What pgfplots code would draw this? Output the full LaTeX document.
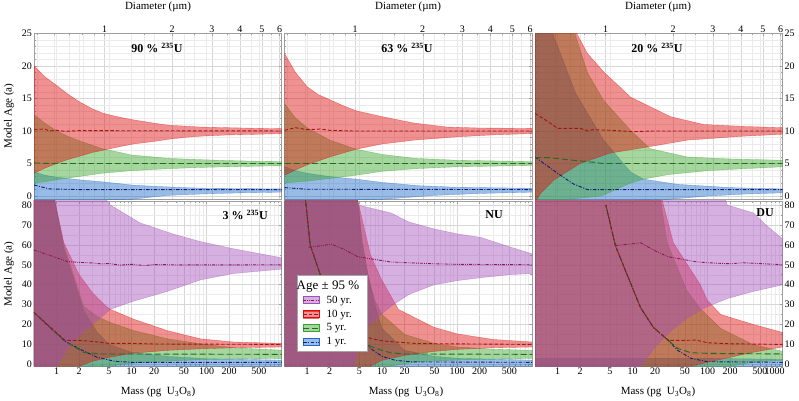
\documentclass[border=0pt]{standalone}
\usepackage{pgfplots}
\pgfplotsset{compat=1.18}
\usepackage{fontspec}
\setmainfont{Liberation Serif}
\definecolor{cP}{RGB}{163,79,186}
\definecolor{cR}{RGB}{222,10,10}
\definecolor{cG}{RGB}{56,163,41}
\definecolor{cB}{RGB}{28,107,199}
\definecolor{lP}{RGB}{140,20,95}
\definecolor{lR}{RGB}{165,20,20}
\definecolor{lG}{RGB}{30,110,30}
\definecolor{lB}{RGB}{20,30,120}
\tikzset{
 bandP/.style={fill=cP, fill opacity=0.45, draw=cP, draw opacity=0.55, line width=0.35pt},
 bandR/.style={fill=cR, fill opacity=0.45, draw=cR, draw opacity=0.55, line width=0.35pt},
 bandG/.style={fill=cG, fill opacity=0.45, draw=cG, draw opacity=0.55, line width=0.35pt},
 bandB/.style={fill=cB, fill opacity=0.45, draw=cB, draw opacity=0.55, line width=0.35pt},
 meanP/.style={draw=lP, line width=0.9pt, dash pattern=on 3pt off 1.2pt on 0.8pt off 1.2pt on 0.8pt off 1.2pt},
 meanR/.style={draw=lR, line width=0.9pt, dash pattern=on 3.5pt off 2pt},
 meanG/.style={draw=lG, line width=0.9pt, dash pattern=on 6pt off 3pt},
 meanB/.style={draw=lB, line width=0.9pt, dash pattern=on 3.5pt off 1.5pt on 1pt off 1.5pt},
}
\newcommand\TOPFRAME{scale only axis, width=247.5pt, height=165.7pt, anchor=south west,
   axis line style={gray!75}, tick style={gray!75, line width=0.4pt},
   tick align=inside, major tick length=3pt, minor tick length=1.7pt,
   tick label style={font=\fontsize{10}{12}\selectfont, inner ysep=0.5pt, inner xsep=2pt},
   /pgf/number format/assume math mode=true,
   xmode=log, xmin=0.486, xmax=6.12, ymin=-0.45, ymax=25,
   xtick={1,2,3,4,5,6}, xticklabels={1,2,3,4,5,6},
   minor xtick={0.5,0.6,0.7,0.8,0.9,1.5,2.5,3.5,4.5,5.5},
   axis x line*=top,
   ytick={0,5,10,15,20,25}, minor ytick={1,2,3,4,6,7,8,9,11,12,13,14,16,17,18,19,21,22,23,24},
   ytick pos=both, grid=both,
   major grid style={gray!32, line width=0.4pt}, minor grid style={gray!16, line width=0.35pt}}
\newcommand\TOPDATA{scale only axis, width=247.5pt, height=165.7pt, anchor=south west,
   axis line style={gray!75},
   xmode=log, xmin=0.5, xmax=1000, ymin=-0.45, ymax=25,
   xtick={1,2,5,10,20,50,100,200,500}, xticklabels={}, ytick=\empty,
   major tick length=0pt, xmajorgrids, major grid style={gray!16, line width=0.35pt}}
\newcommand\BOTDATA{scale only axis, width=247.5pt, height=165pt, anchor=south west,
   axis line style={gray!75}, tick style={gray!75, line width=0.4pt},
   tick align=inside, major tick length=3pt, minor tick length=1.7pt,
   tick label style={font=\fontsize{10}{12}\selectfont, inner ysep=0.5pt, inner xsep=2pt},
   xticklabel style={yshift=-1pt},
   /pgf/number format/assume math mode=true,
   xmode=log, xmin=0.5, xmax=1000, ymin=-0.85, ymax=82,
   xtick={1,2,5,10,20,50,100,200,500,1000},
   minor xtick={0.6,0.7,0.8,0.9,3,4,6,7,8,9,30,40,60,70,80,90,300,400,600,700,800,900},
   xtick pos=both, ytick={0,10,20,30,40,50,60,70,80}, minor ytick={5,15,25,35,45,55,65,75},
   ytick pos=both, grid=both,
   major grid style={gray!32, line width=0.4pt}, minor grid style={gray!16, line width=0.35pt}}
\newcommand\LEGIMG[2]{\addlegendimage{legend image code/.code={\fill[#1, fill opacity=0.45] (0pt,-3.5pt) rectangle (16pt,3.5pt); \draw[#1,opacity=0.6,line width=0.35pt] (0pt,-3.5pt)--(16pt,-3.5pt) (0pt,3.5pt)--(16pt,3.5pt); \draw[#2] (0pt,0pt)--(16pt,0pt);}}}
\begin{document}
\begin{tikzpicture}[x=1pt,y=1pt]
\path[use as bounding box] (0,0) rectangle (799,400);

%================ TOP ROW =================
% ---- 90 %
\expandafter\axis\expandafter[\TOPFRAME, at={(34pt,201pt)}]
\addplot[draw=none] coordinates {(1,-5)(2,-5)};
\endaxis
\expandafter\axis\expandafter[\TOPDATA, at={(34pt,201pt)}]
\addplot[bandB] coordinates {(0.5,3.7)(0.7,3.2)(1,2.9)(2,2.5)(4,2.2)(7,1.9)(10,1.7)(20,1.5)(50,1.3)(100,1.2)(300,1.15)(1000,1.1)(1000,0.6)(300,0.5)(100,0.35)(30,0.1)(10,-0.5)(0.5,-1)} --cycle;
\addplot[bandG] coordinates {(0.5,12.5)(0.7,11.2)(1,10)(1.4,9.2)(2,8.5)(3,7.8)(4,7.3)(7,6.7)(10,6.3)(20,6.0)(30,5.8)(80,5.6)(200,5.45)(500,5.35)(1000,5.3)(1000,4.65)(500,4.6)(200,4.5)(80,4.4)(30,4.2)(10,3.9)(4,3.5)(2,3.0)(1,2.5)(0.7,2.2)(0.5,2.0)} --cycle;
\addplot[bandR] coordinates {(0.5,20)(0.7,18.3)(1,17)(1.4,15.7)(2,14.5)(3,13.4)(4.2,12.7)(7,12.1)(10.6,11.7)(20,11.2)(30,10.9)(50,10.75)(83,10.6)(200,10.5)(500,10.4)(1000,10.35)(1000,9.6)(500,9.5)(200,9.4)(83,9.2)(50,9.0)(30,8.7)(20,8.4)(10.6,8.0)(7,7.6)(4,7.0)(3,6.7)(2,6.1)(1.4,5.6)(1,5.0)(0.7,4.3)(0.5,3.5)} --cycle;
\addplot[meanB] coordinates {(0.5,1.7)(0.8,1.1)(2,1.0)(1000,1.0)};
\addplot[meanG] coordinates {(0.5,5.1)(0.8,5.0)(1000,5.0)};
\addplot[meanR] coordinates {(0.5,10.2)(0.7,10.3)(0.8,10.0)(1,10.1)(1.3,9.95)(2,10.05)(1000,10)};
\endaxis
% ---- 63 %
\expandafter\axis\expandafter[\TOPFRAME, at={(284.5pt,201pt)}, yticklabels={}]
\addplot[draw=none] coordinates {(1,-5)(2,-5)};
\endaxis
\expandafter\axis\expandafter[\TOPDATA, at={(284.5pt,201pt)}]
\addplot[bandB] coordinates {(0.5,4.5)(0.7,3.9)(1,3.5)(2,3.0)(4.5,2.6)(10,2.1)(30,1.6)(100,1.35)(1000,1.2)(1000,0.6)(200,0.4)(50,0.1)(10,-0.5)(0.5,-1)} --cycle;
\addplot[bandG] coordinates {(0.5,14.2)(0.7,12.0)(1,10.5)(2,8.6)(4.5,7.2)(10,6.4)(27,5.8)(100,5.5)(1000,5.3)(1000,4.7)(100,4.5)(27,4.2)(10,3.8)(4.5,3.2)(2,2.7)(1,2.3)(0.5,2.0)} --cycle;
\addplot[bandR] coordinates {(0.5,21.9)(0.7,19)(1,16.8)(1.4,15.6)(2.1,14.7)(3,13.9)(4.5,13.1)(10,12.2)(27,11.2)(74,10.6)(200,10.45)(1000,10.4)(1000,9.6)(300,9.4)(100,9.1)(27,8.6)(10,8.0)(4.5,7.2)(2,6.0)(1,4.8)(0.7,4.0)(0.5,3.2)} --cycle;
\addplot[meanB] coordinates {(0.5,1.3)(1,1.05)(1000,1.0)};
\addplot[meanG] coordinates {(0.5,5.0)(1000,5.0)};
\addplot[meanR] coordinates {(0.5,10.1)(0.7,10.5)(1,10.2)(1.5,10.3)(2,10.1)(4,10.0)(1000,10)};
\endaxis
% ---- 20 %
\expandafter\axis\expandafter[\TOPFRAME, at={(535pt,201pt)}, yticklabel pos=right]
\addplot[draw=none] coordinates {(1,-5)(2,-5)};
\endaxis
\expandafter\axis\expandafter[\TOPDATA, at={(535pt,201pt)}]
\addplot[bandB] coordinates {(0.5,40)(0.86,25)(1.74,15.8)(4.1,8.6)(9.4,3.7)(14,2.6)(40,1.8)(200,1.3)(1000,1.1)(1000,0.5)(300,0.3)(100,0)(30,-0.5)(0.5,-1)} --cycle;
\addplot[bandG] coordinates {(0.5,50)(1.0,32)(1.7,25)(2.5,19)(4.1,14.7)(9.4,10.1)(17,7.3)(54,6.0)(200,5.7)(1000,5.5)(1000,4.5)(300,4.2)(100,3.9)(30,3.3)(14,2.6)(9.4,2.0)(6,1.0)(3.8,0)(0.5,-1)} --cycle;
\addplot[bandR] coordinates {(0.5,45)(1,32)(1.8,25)(2.5,21.9)(4.1,19.1)(9.4,15.2)(32,12.2)(88,11.0)(300,10.7)(1000,10.5)(1000,9.5)(300,9.2)(54,8.6)(17,7.6)(5,6.6)(2,5.0)(0.9,2.5)(0.6,0.5)(0.5,-1)} --cycle;
\addplot[meanB] coordinates {(0.5,6.0)(1,3.5)(1.6,1.9)(2.5,1.0)(1000,1.0)};
\addplot[meanG] coordinates {(0.5,5.9)(0.8,5.9)(1.3,5.6)(2,5.4)(3,5.2)(4,5.0)(1000,5.0)};
\addplot[meanR] coordinates {(0.5,12.7)(0.8,11.2)(1,10.4)(2,10.4)(2.5,10.0)(3,10.2)(5,10.1)(10,9.9)(20,10.0)(1000,10)};
\endaxis

%================ BOTTOM ROW =================
% ---- 3 %
\expandafter\axis\expandafter[\BOTDATA, at={(34pt,34pt)}, xticklabels={1,2,5,10,20,50,100,200,500,{}}]
\addplot[bandB] coordinates {(0.5,200)(0.95,82)(1.25,58)(2.3,27)(3.5,16)(5,10)(10,6)(30,4)(100,2.8)(1000,2.1)(1000,-1)(0.5,-1)} --cycle;
\addplot[bandG] coordinates {(0.5,200)(0.95,82)(1.25,60)(2.3,29)(3.5,24)(5.2,21)(10.6,17)(30,12.8)(83,10.3)(230,8.3)(1000,7.1)(1000,3.0)(230,2.7)(83,2.3)(30,1.6)(10,0.5)(5,-1)(0.5,-1)} --cycle;
\addplot[bandR] coordinates {(0.5,200)(0.95,82)(1.25,61)(2,45)(3,36)(4.3,30)(5.2,27.6)(10.6,22.7)(30,16.9)(83,12.8)(230,11.2)(1000,10.5)(1000,8.7)(230,8.3)(83,7.8)(30,7.0)(10,5.5)(5,3.5)(3,1.5)(2,-1)(0.5,-1)} --cycle;
\addplot[bandP] coordinates {(0.5,150)(2,100)(5.2,80)(13,71)(36,65.4)(83,61.6)(230,58)(1000,53.5)(1000,47.8)(230,45.6)(83,42.4)(30,36.6)(10.6,31.7)(5.2,27.6)(3.5,22)(2.1,15.3)(1.4,8)(1,-1)(0.5,-5)} --cycle;
\addplot[meanB] coordinates {(0.5,26)(1.3,11.5)(2.2,7)(3.5,3.5)(6,1.5)(10,1)(1000,1)};
\addplot[meanG] coordinates {(0.5,26)(1.3,11.5)(2.3,6)(4,5.2)(1000,5)};
\addplot[meanR] coordinates {(0.5,26)(1.3,12)(2,12)(3,11.5)(5,10.5)(10,10.5)(20,10.2)(1000,10)};
\addplot[meanP] coordinates {(0.5,57.4)(0.7,55.5)(1,53.5)(1.4,51.6)(2,51.2)(3,50.9)(4,50.4)(5,50.6)(7,49.8)(10,50.2)(15,49.6)(20,50.1)(50,49.9)(1000,50)};
\endaxis
% ---- NU
\expandafter\axis\expandafter[\BOTDATA, at={(284.5pt,34pt)}, xticklabels={1,2,5,10,20,50,100,200,500,{}}, yticklabels={}]
\addplot[bandB] coordinates {(0.5,300)(4,100)(4.75,82)(5.4,61)(6.5,45)(8,30)(10,18)(20,7)(50,4)(100,3)(1000,2.1)(1000,-1)(0.5,-1)} --cycle;
\addplot[bandG] coordinates {(0.5,300)(4,100)(4.75,82)(5.5,61)(6.5,45)(8,32)(10,25)(20,15)(50,10.5)(100,8.7)(300,7.6)(1000,7.0)(1000,3.0)(300,2.6)(100,2.1)(30,1.2)(12,-1)(0.5,-1)} --cycle;
\addplot[bandR] coordinates {(0.5,300)(4,100)(4.75,82)(7,55)(9.7,43)(16.5,27.6)(49,18.6)(100,15.3)(300,12.5)(1000,11.2)(1000,8.7)(300,8.3)(100,7.5)(50,6.5)(20,4.5)(10,2)(7,-1)(0.5,-1)} --cycle;
\addplot[bandP] coordinates {(0.5,300)(2,150)(4.75,80)(13.2,76)(22.6,71.5)(49,68)(100,65.5)(208,63.7)(500,59)(1000,55.5)(1000,45.6)(500,45)(208,43.5)(100,42)(49,39.9)(22.6,35)(13.2,29.2)(9.7,25)(6,18.6)(4.75,8.7)(4.3,-1)(0.5,-5)} --cycle;
\addplot[meanB] coordinates {(0.85,100)(1.1,60)(1.5,45)(2.2,33)(3.5,22)(5,14)(7,8)(10,4)(15,2)(25,1.2)(1000,1)};
\addplot[meanG] coordinates {(0.85,100)(1.1,60)(1.5,45)(2.2,33)(3.5,22)(5,14)(7,9)(10,7)(13,5.8)(20,5.2)(1000,5)};
\addplot[meanR] coordinates {(0.85,100)(1.1,60)(1.5,45)(2.2,33)(3.5,22)(5,16)(7,13)(10,11.8)(15,11.2)(30,10.4)(1000,10)};
\addplot[meanP] coordinates {(1.05,58.8)(1.5,59.5)(2.1,60.3)(3,58)(4.75,54)(7,53)(13,51.4)(22,51)(50,50.5)(100,50.2)(1000,50)};
\endaxis
% ---- DU
\expandafter\axis\expandafter[\BOTDATA, at={(535pt,34pt)}, xticklabels={1,2,5,10,20,50,100,200,500,\hspace*{-8pt}1000\hspace*{8pt}}, yticklabel pos=right]
\addplot[bandB] coordinates {(0.5,3)(100,3)(1000,2.5)(1000,-1)(0.5,-1)} --cycle;
\addplot[bandG] coordinates {(0.5,400)(20,120)(23.7,82)(29,61)(53,37)(80,28)(150,18)(400,10)(1000,6.5)(1000,2)(400,1)(200,-1)(0.5,-1)} --cycle;
\addplot[bandR] coordinates {(0.5,400)(20,130)(25,82)(35,61)(80,40)(100,32)(150,25)(410,20)(1000,16)(1000,8.7)(400,6)(200,3.5)(100,1)(60,-1)(0.5,-1)} --cycle;
\addplot[bandP] coordinates {(0.5,400)(50,150)(183,80)(410,76)(600,70)(1000,63)(1000,39.9)(410,36.6)(183,33)(92,28.4)(55,23.5)(33,17)(20,8.7)(12.8,-1)(0.5,-5)} --cycle;
\addplot[meanB] coordinates {(4.4,80)(5.9,59.6)(8.5,44.8)(12.8,28.4)(19,18.5)(30,12)(40,7)(60,3)(100,1.3)(1000,1)};
\addplot[meanG] coordinates {(4.4,80)(5.9,59.6)(8.5,44.8)(12.8,28.4)(19,18.5)(30,12)(40,8)(60,5.8)(100,5.5)(200,5.4)(1000,5.2)};
\addplot[meanR] coordinates {(4.4,80)(5.9,59.6)(8.5,44.8)(12.8,28.4)(19,18.5)(30,12)(50,12)(70,12.2)(100,10.8)(200,10.3)(1000,10)};
\addplot[meanP] coordinates {(5.9,59.6)(12.8,61)(20,57)(30,54)(50,52.5)(70,51.5)(100,51)(200,50.5)(300,51)(1000,50)};
\endaxis
% ---- legend
\begin{axis}[scale only axis, width=247.5pt, height=165pt, at={(284.5pt,34pt)}, anchor=south west,
  hide axis, xmin=0, xmax=1, ymin=0, ymax=1,
  legend style={at={(0.049,0.087)}, anchor=south west, draw=gray!70, fill=white,
    font=\fontsize{11}{12}\selectfont, inner xsep=6pt, inner ysep=3pt, row sep=1.2pt, column sep=5pt,
    cells={anchor=west}},
  legend cell align=left]
\addlegendimage{empty legend}
\addlegendentry{\hspace*{-30pt}\fontsize{13}{14}\selectfont Age ± 95 \%}
\LEGIMG{cP}{meanP}
\addlegendentry{50 yr.}
\LEGIMG{cR}{meanR}
\addlegendentry{10 yr.}
\LEGIMG{cG}{meanG}
\addlegendentry{5 yr.}
\LEGIMG{cB}{meanB}
\addlegendentry{1 yr.}
\end{axis}

%================ TEXT =================
\begin{scope}[every node/.style={font=\fontsize{11}{13}\selectfont, inner sep=0pt}]
\node at (158,393) {Diameter (µm)};
\node at (408,393) {Diameter (µm)};
\node at (658,393) {Diameter (µm)};
\node at (158,8) {Mass (pg\ \ U\textsubscript{3}O\textsubscript{8})};
\node at (406,8) {Mass (pg\ \ U\textsubscript{3}O\textsubscript{8})};
\node at (658,8) {Mass (pg\ \ U\textsubscript{3}O\textsubscript{8})};
\node[rotate=90] at (9,284) {Model Age (a)};
\node[rotate=90] at (9,126) {Model Age (a)};
\end{scope}
\begin{scope}[every node/.style={font=\bfseries\fontsize{12}{14}\selectfont, inner sep=0pt}]
\node at (157,352) {90 \% \textsuperscript{235}U};
\node at (407,352) {63 \% \textsuperscript{235}U};
\node at (657,352) {20 \% \textsuperscript{235}U};
\node[anchor=east] at (268,185) {3 \% \textsuperscript{235}U};
\node[anchor=east] at (503,185) {NU};
\node[anchor=east] at (774,187) {DU};
\end{scope}
\end{tikzpicture}
\end{document}
